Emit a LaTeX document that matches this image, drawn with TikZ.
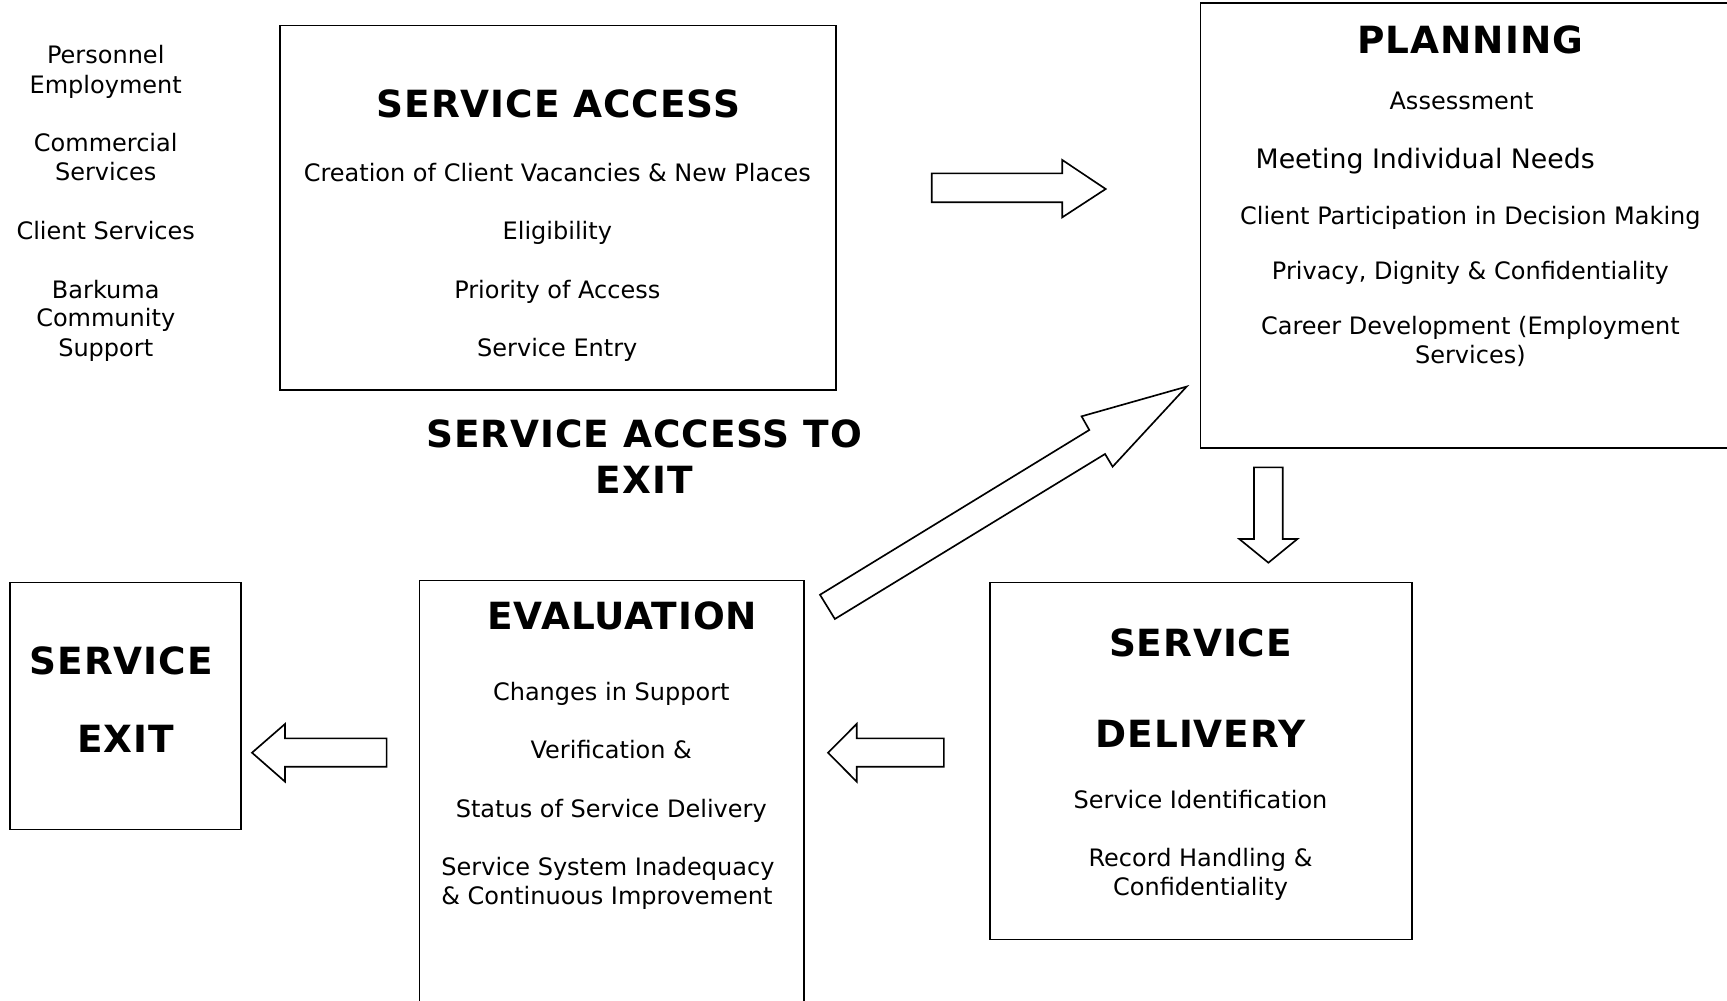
\documentclass[tikz,border=0pt]{standalone}
\usepackage{fontspec}
\setmainfont{DejaVu Sans}
\newfontfamily\ttlfont[LetterSpace=2.5]{DejaVu Sans}
\begin{document}
\begin{tikzpicture}[x=1pt,y=-1pt,
  box/.style={draw, line width=1.5pt, rectangle, inner sep=0pt},
  txt/.style={anchor=base, inner sep=0pt, font=\fontsize{21.8}{26.5}\selectfont},
  bigtxt/.style={anchor=base, inner sep=0pt, font=\fontsize{24.3}{29}\selectfont},
  ttl/.style={anchor=base, inner sep=0pt, font=\ttlfont\fontsize{34}{42}\selectfont\bfseries},
  blk/.style={draw, line width=1.5pt, fill=white, line join=miter}]
\useasboundingbox (0,0) rectangle (1568,908.8);
% boxes
\node[box, minimum width=505pt, minimum height=331pt] (access) at (506.5,188.5) {};
\node[box, minimum width=490pt, minimum height=404pt] (planning) at (1335,205) {};
\node[box, minimum width=383pt, minimum height=324pt] (delivery) at (1090.5,691) {};
\node[box, minimum width=349pt, minimum height=403pt] (evaluation) at (555.5,728.5) {};
\node[box, minimum width=210pt, minimum height=224pt] (exit) at (114,641) {};
\begin{scope}[shift={(0,1.3)}]
% left column
\node[txt] (l1) at (96,56.5) {Personnel};
\node[txt] (l2) at (96,83.5) {Employment};
\node[txt] (l3) at (96,136.5) {Commercial};
\node[txt] (l4) at (96,162.5) {Services};
\node[txt] (l5) at (96,216.5) {Client Services};
\node[txt] (l6) at (96,269.5) {Barkuma};
\node[txt] (l7) at (96,295.5) {Community};
\node[txt] (l8) at (96,322.5) {Support};
% service access
\node[ttl] (at) at (507,105) {SERVICE ACCESS};
\node[txt] (a1) at (506,163.5) {Creation of Client Vacancies \& New Places};
\node[txt] (a2) at (506,216.5) {Eligibility};
\node[txt] (a3) at (506,269.5) {Priority of Access};
\node[txt] (a4) at (506,322.5) {Service Entry};
% caption
\node[ttl] (c1) at (585,405) {SERVICE ACCESS TO};
\node[ttl] (c2) at (585,447) {EXIT};
% planning
\node[ttl] (pt) at (1335,47) {PLANNING};
\node[txt] (p1) at (1327,98.5) {Assessment};
\node[bigtxt] (p2) at (1294,152) {Meeting Individual Needs};
\node[txt] (p3) at (1335,202.5) {Client Participation in Decision Making};
\node[txt] (p4) at (1335,252.5) {Privacy, Dignity \& Confidentiality};
\node[txt] (p5) at (1335,302.5) {Career Development (Employment};
\node[txt] (p6) at (1335,328.5) {Services)};
% evaluation
\node[ttl] (et) at (565,570) {EVALUATION};
\node[txt] (e1) at (555,634.5) {Changes in Support};
\node[txt] (e2) at (555,687.5) {Verification \&};
\node[txt] (e3) at (555,740.5) {Status of Service Delivery};
\node[txt] (e4) at (552,793.5) {Service System Inadequacy};
\node[txt] (e5) at (551,819.5) {\& Continuous Improvement};
% delivery
\node[ttl] (dt1) at (1090,595) {SERVICE};
\node[ttl] (dt2) at (1090,677) {DELIVERY};
\node[txt] (d1) at (1090,732.5) {Service Identification};
\node[txt] (d2) at (1090,785.5) {Record Handling \&};
\node[txt] (d3) at (1090,811.5) {Confidentiality};
% exit
\node[ttl] (xt1) at (110,611) {SERVICE};
\node[ttl] (xt2) at (114,682) {EXIT};
\end{scope}
% block arrows
\draw[blk] (846,157.4) -- (964.5,157.4) -- (964.5,145.3) -- (1003.9,171.6) -- (964.5,197.3) -- (964.5,183.7) -- (846,183.7) -- cycle;
\draw[blk] (1138.5,424.3) -- (1164.6,424.3) -- (1164.6,489.4) -- (1177.9,489.4) -- (1151.6,510.9) -- (1125.2,489.4) -- (1138.5,489.4) -- cycle;
\draw[blk] (228.8,683.4) -- (258.8,657.3) -- (258.8,670.4) -- (351,670.4) -- (351,696.1) -- (258.8,696.1) -- (258.8,709.7) -- cycle;
\draw[blk] (751.8,683.4) -- (777.8,657.3) -- (777.8,670.4) -- (857,670.4) -- (857,696.1) -- (777.8,696.1) -- (777.8,709.7) -- cycle;
\draw[blk] (744.5,540) -- (989,390.4) -- (982,378) -- (1077.4,351) -- (1010.2,423.7) -- (1003.3,412.2) -- (758,562) -- cycle;
\end{tikzpicture}
\end{document}
